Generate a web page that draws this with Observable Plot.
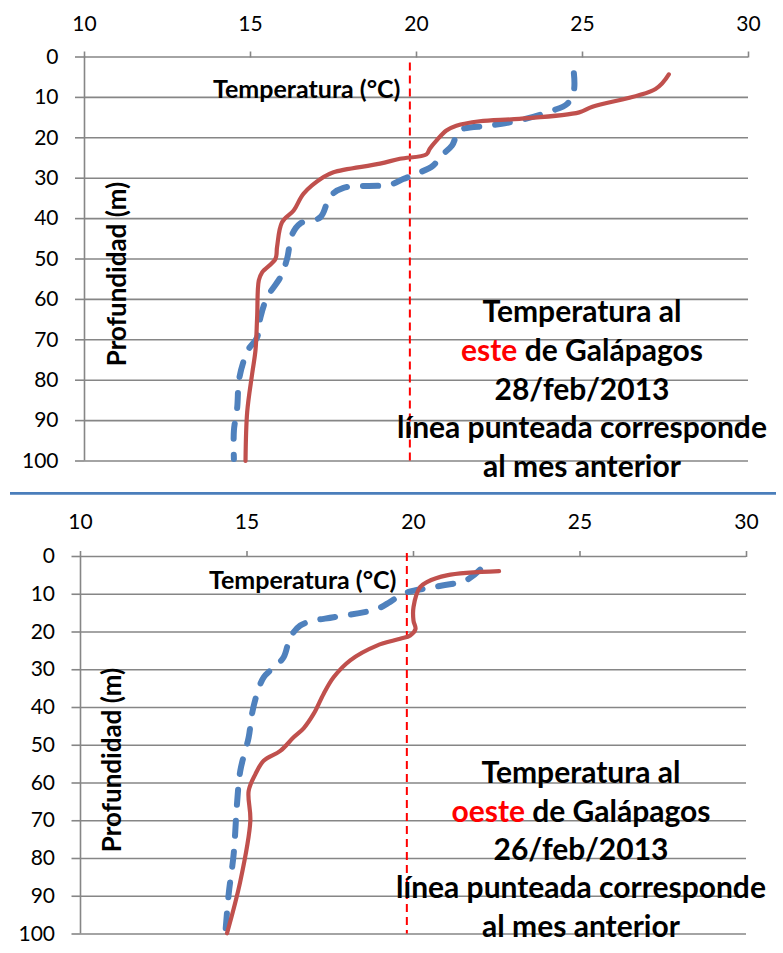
<!DOCTYPE html>
<html><head><meta charset="utf-8">
<script src="https://cdn.jsdelivr.net/npm/d3@7"></script>
<script src="https://cdn.jsdelivr.net/npm/@observablehq/plot@0.6"></script>
<style>
body{margin:0;background:#fff;}
#wrap{position:relative;width:783px;height:953px;overflow:hidden;font-family:Lato,sans-serif;}
#wrap > svg{position:absolute;left:0;}
</style></head><body><div id="wrap"></div>
<script>
// ---- ticks ----
const xTicks = [10, 15, 20, 25, 30];
const yTicks = [0, 10, 20, 30, 40, 50, 60, 70, 80, 90, 100];
const refTemp = [19.8];

// ---- East of Galápagos, 28/feb/2013 (solid) ----
const eastTemp  = [27.6, 27.2, 25.3, 24.9, 23.1, 21.9, 21.2, 20.9, 20.6, 20.4, 20.3, 19.5, 18.9, 17.5, 17.2, 16.6, 16.3, 15.95, 15.8, 15.75, 15.35, 15.25, 15.2, 15.15, 15.05, 14.9, 14.85];
const eastDepth = [4.3, 7.9, 12.3, 13.7, 15.3, 15.9, 17.0, 18.2, 20.7, 22.7, 24.1, 25.2, 26.4, 28.5, 29.7, 33.8, 38, 40.9, 47, 50, 53.3, 55.3, 64.4, 72.6, 78.4, 87.9, 100];
// ---- East, previous month (dashed) ----
const eastPrevTemp  = [24.74, 24.74, 24.54, 24.04, 23.1, 22.2, 21.3, 21.07, 20.7, 20.5, 20.0, 19.6, 19.2, 17.8, 17.4, 17.1, 16.5, 16.25, 16.1, 15.9, 15.5, 15.3, 15.2, 14.95, 14.8, 14.65, 14.6, 14.5, 14.5];
const eastPrevDepth = [4, 8.3, 11.6, 13.4, 15.7, 17, 18.2, 21.9, 24.8, 26.9, 28.9, 30.2, 31.6, 32.4, 34.5, 39.7, 41.2, 44, 50, 54.5, 59.5, 64.4, 69.4, 72.2, 75.1, 80.1, 86.7, 92.5, 99.5];

// ---- West of Galápagos, 26/feb/2013 (solid) ----
const westTemp  = [22.57, 21.0, 20.4, 20.2, 20.0, 20.0, 20.06, 19.9, 19.6, 18.9, 18.1, 17.6, 17.3, 17.0, 16.7, 16.4, 16.0, 15.5, 15.25, 15.05, 15.1, 14.8, 14.4];
const westDepth = [3.9, 5.0, 6.8, 8.1, 13.4, 17, 19.2, 20.9, 21.8, 23.6, 27.5, 32, 36.4, 41.7, 45.5, 47.9, 51.5, 54.1, 57.7, 62.1, 70.1, 86, 99.8];
// ---- West, previous month (dashed) ----
const westPrevTemp  = [22.0, 21.6, 20.6, 19.7, 19.3, 18.9, 17.6, 17.0, 16.6, 16.3, 16.1, 15.8, 15.5, 15.3, 15.15, 15.05, 14.8, 14.7, 14.6, 14.45, 14.35];
const westPrevDepth = [3.5, 6.2, 8.1, 9.8, 12, 13.9, 16.1, 17, 18.3, 21.4, 26.7, 29.4, 32, 36.4, 41.7, 47.9, 56.7, 65.5, 78.8, 89.4, 99.8];

const zipTD = (t, d) => t.map((v, i) => ({t: v, d: d[i]}));
const GRID = "#868686";

function panel(o) {
  return Plot.plot({
    width: 783, height: o.height,
    marginTop: o.mt, marginBottom: o.mb, marginLeft: o.ml, marginRight: o.mr,
    style: {fontFamily: "Lato, sans-serif", color: "black", background: "transparent"},
    x: {domain: [10, 30]},
    y: {domain: [0, 100], reverse: true},
    marks: [
      Plot.ruleY(yTicks, {stroke: GRID, strokeWidth: 1.6}),
      Plot.ruleX([10], {stroke: GRID, strokeWidth: 1.6}),
      Plot.axisX(xTicks, {anchor: "top", tickSize: 6, tickPadding: o.xpad, fontSize: 21, stroke: GRID, strokeWidth: 1.6, fill: "black", label: null}),
      Plot.axisY(yTicks, {anchor: "left", tickSize: o.ytick, tickPadding: 17, fontSize: 21, stroke: GRID, strokeWidth: 1.6, fill: "black", label: null}),
      Plot.ruleX(refTemp, {y1: o.refY1, y2: 100, stroke: "#FF0000", strokeWidth: 2, strokeDasharray: "8,5"}),
      Plot.line(zipTD(o.prevT, o.prevD), {x: "t", y: "d", stroke: "#4F81BD", strokeWidth: 6, strokeDasharray: "15,16", strokeLinecap: "round", curve: "catmull-rom"}),
      Plot.line(zipTD(o.curT, o.curD), {x: "t", y: "d", stroke: "#C0504D", strokeWidth: 4.2, strokeLinecap: "round", curve: "catmull-rom"})
    ]
  });
}

const wrap = document.getElementById("wrap");
const p1 = panel({height: 480, mt: 56.5, mb: 19.5, ml: 84, mr: 35, xpad: 20, ytick: 9, refY1: 1.5,
  curT: eastTemp, curD: eastDepth, prevT: eastPrevTemp, prevD: eastPrevDepth});
p1.style.top = "0px";
wrap.appendChild(p1);
const p2 = panel({height: 456, mt: 59, mb: 19.5, ml: 80, mr: 37, xpad: 21.5, ytick: 8.5, refY1: -0.8,
  curT: westTemp, curD: westDepth, prevT: westPrevTemp, prevD: westPrevDepth});
p2.style.top = "497px";
wrap.appendChild(p2);

// ---- annotation overlay ----
const ov = d3.select(wrap).append("svg")
  .attr("width", 783).attr("height", 953)
  .style("top", "0px").style("pointer-events", "none")
  .style("font-family", "Lato, sans-serif");

ov.append("line").attr("x1", 10).attr("x2", 776).attr("y1", 493.3).attr("y2", 493.3)
  .attr("stroke", "#4A7EBB").attr("stroke-width", 2.8);

function axisTitles(tx, ty, px, py) {
  ov.append("text").attr("x", tx).attr("y", ty).attr("font-size", 25).attr("font-weight", 700)
    .attr("fill", "black").text("Temperatura (°C)");
  ov.append("text").attr("transform", `translate(${px},${py}) rotate(-90)`).attr("text-anchor", "middle")
    .attr("font-size", 26).attr("font-weight", 700).attr("fill", "black").text("Profundidad (m)");
}
axisTitles(213, 98, 126, 274);
axisTitles(209, 589, 121, 760);

function block(cx, baselines, word, date) {
  const lines = [
    [["Temperatura al", "black"]],
    [[word, "#FF0000"], [" de Galápagos", "black"]],
    [[date, "black"]],
    [["línea punteada corresponde", "black"]],
    [["al mes anterior", "black"]]
  ];
  lines.forEach((parts, i) => {
    const t = ov.append("text").attr("x", cx).attr("y", baselines[i]).attr("text-anchor", "middle")
      .attr("font-size", 30).attr("font-weight", 700);
    parts.forEach(([s, c]) => t.append("tspan").attr("fill", c).text(s));
  });
}
block(582, [321.7, 361.2, 399.5, 438.3, 476.7], "este", "28/feb/2013");
block(581, [782.7, 821.7, 860, 898.3, 936.7], "oeste", "26/feb/2013");
</script></body></html>
